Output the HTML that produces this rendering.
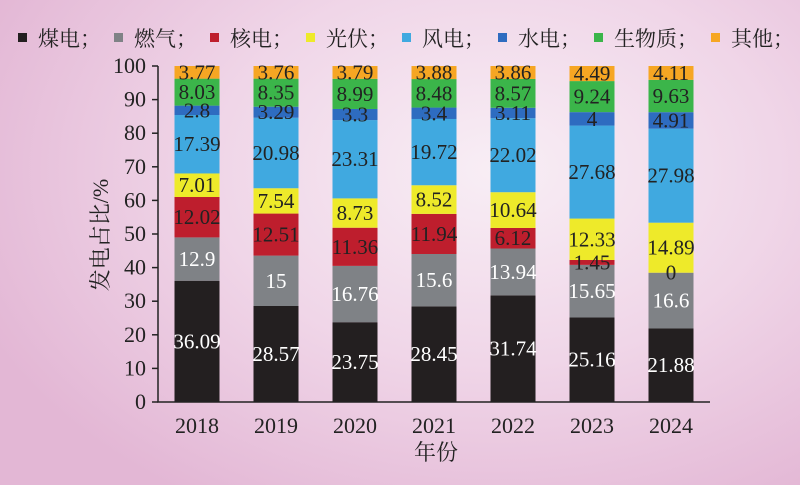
<!DOCTYPE html>
<html><head><meta charset="utf-8"><style>
html,body{margin:0;padding:0}
body{width:800px;height:485px;overflow:hidden;background:radial-gradient(ellipse 70% 80% at 62% 35%,#f8eef5 0%,#f0d6e8 50%,#e3b7d5 100%);}
svg{display:block}
text{font-family:"Liberation Serif","Noto Serif CJK SC",serif}
</style></head><body>
<svg id="chart" width="800" height="485"></svg>
<script>
const years=["2018","2019","2020","2021","2022","2023","2024"];
const seriesNames=["煤电","燃气","核电","光伏","风电","水电","生物质","其他"];
const coal=[36.09,28.57,23.75,28.45,31.74,25.16,21.88];
const gas=[12.9,15,16.76,15.6,13.94,15.65,16.6];
const nuclear=[12.02,12.51,11.36,11.94,6.12,1.45,0];
const solar=[7.01,7.54,8.73,8.52,10.64,12.33,14.89];
const wind=[17.39,20.98,23.31,19.72,22.02,27.68,27.98];
const hydro=[2.8,3.29,3.3,3.4,3.11,4,4.91];
const bio=[8.03,8.35,8.99,8.48,8.57,9.24,9.63];
const other=[3.77,3.76,3.79,3.88,3.86,4.49,4.11];
const yTicks=[0,10,20,30,40,50,60,70,80,90,100];
const colors=["#231f20","#7f8286","#be1e2d","#eeea2a","#40a9e0","#2e6cc0","#3bb54a","#f6a623"];
const textColors=["#fff","#fff","#222","#222","#222","#222","#222","#222"];
const allSeries=[coal,gas,nuclear,solar,wind,hydro,bio,other];
const NS="http://www.w3.org/2000/svg";
const svg=document.getElementById('chart');
const x0=158,y0=402,yTop=66,step=79,firstC=197,bw=45;
const yS=v=>y0-(v/100)*(y0-yTop);
const xC=i=>firstC+i*step;
function mk(tag,attrs,parent){const e=document.createElementNS(NS,tag);for(const k in attrs)e.setAttribute(k,attrs[k]);(parent||svg).appendChild(e);return e;}
// legend
let lx=18;
seriesNames.forEach((n,i)=>{
  const g=mk('g',{});
  
  
  mk('rect',{x:lx,y:33,width:9,height:9,fill:colors[i]},g);
  const t=mk('text',{x:lx+20,y:46,'font-size':21,fill:'#222'},g);
  t.textContent=n+"；";
  lx+=96+(n.length-2)*21;
});
// bars
years.forEach((yr,i)=>{
  let cum=0;
  allSeries.forEach((s,k)=>{
    const v=s[i];const a=cum,b=Math.min(100,cum+v);cum+=v;
    const r=mk('rect',{x:xC(i)-bw/2,y:yS(b),width:bw,height:Math.max(0,yS(a)-yS(b)),fill:colors[k]});
    
    
  });
  cum=0;
  allSeries.forEach((s,k)=>{
    const v=s[i];const mid=cum+v/2;cum+=v;
    const t=mk('text',{x:xC(i),y:yS(Math.min(mid,98.2))+7,'font-size':21,'text-anchor':'middle',fill:textColors[k]});
    
    
    t.textContent=String(v);
  });
  const xl=mk('text',{x:xC(i),y:433,'font-size':22,'text-anchor':'middle',fill:'#222'});
  
  
  xl.textContent=yr;
});
// axes
const ax=mk('path',{d:`M${x0},${yTop} V${y0} H710`,stroke:'#222','stroke-width':1.5,fill:'none'});


yTicks.forEach(v=>{
  mk('line',{x1:x0-6,x2:x0,y1:yS(v),y2:yS(v),stroke:'#222','stroke-width':1.5});
  const t=mk('text',{x:x0-12,y:yS(v)+7,'font-size':22,'text-anchor':'end',fill:'#222'});
  
  
  t.textContent=v;
});
const yt=mk('text',{x:0,y:0,'font-size':22,'text-anchor':'middle',fill:'#222',transform:'translate(108,235) rotate(-90)'});


yt.textContent="发电占比/%";
const xt=mk('text',{x:436,y:460,'font-size':22,'text-anchor':'middle',fill:'#222'});


xt.textContent="年份";
</script>
</body></html>
